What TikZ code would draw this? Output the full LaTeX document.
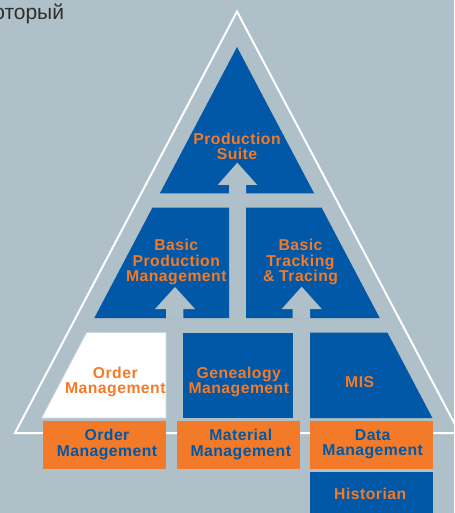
\documentclass[tikz,border=0pt]{standalone}
\usepackage{fontspec}
\setmainfont{Liberation Sans}
\newfontfamily\labfont[LetterSpace=3]{Liberation Sans Bold}
\definecolor{bg}{RGB}{176,192,200}
\definecolor{myblue}{RGB}{0,88,166}
\definecolor{myorange}{RGB}{242,122,41}
\definecolor{darktext}{RGB}{45,45,45}
\definecolor{edgeblue}{RGB}{200,214,224}
\tikzset{
  lbl/.style={font=\labfont\fontsize{11.8}{11.6}\selectfont, align=center, inner sep=0pt, anchor=north},
  otext/.style={lbl, text=myorange},
  btext/.style={lbl, text=myblue},
  bluefill/.style={fill=myblue, draw=none},
  orangebox/.style={fill=myorange, draw=none},
  gaparrow/.style={fill=bg, draw=none},
  frame/.style={draw=white, line width=1.5pt, line join=miter}
}
\begin{document}
\begin{tikzpicture}[x=0.75pt,y=-0.75pt]
\useasboundingbox (0,0) rectangle (454,513);
\clip (0,0) rectangle (454,513);
\fill[bg] (0,0) rectangle (454,513);
% caption fragment
\node[anchor=base west, inner sep=0pt, text=darktext, font=\fontsize{15.75}{18}\selectfont] (cap) at (-7,20) {оторый};
% outer white triangle
\draw[frame] (237,11.5) -- (15,433) -- (459.5,433) -- cycle;
% top triangle
\path[bluefill] (237,47) -- (314.2,193.5) -- (159.8,193.5) -- cycle;
% middle row
\path[bluefill] (152.5,207.5) -- (229,207.5) -- (229,318) -- (94.3,318) -- cycle;
\path[bluefill] (246,207.5) -- (321.5,207.5) -- (379.7,318) -- (246,318) -- cycle;
% bottom row
\path[fill=white, draw=edgeblue, line width=0.5pt] (86.6,332.5) -- (166,332.5) -- (166,418) -- (41.6,418) -- cycle;
\path[bluefill] (183.3,332.5) rectangle (292.7,418);
\path[bluefill] (310,332.5) -- (387.4,332.5) -- (432.4,418) -- (310,418) -- cycle;
% arrows (gaps)
\path[gaparrow] (229,194) -- (229,185) -- (217.7,185) -- (237.3,162.7) -- (257.3,185) -- (246,185) -- (246,194) -- cycle;
\path[gaparrow] (166,318.5) -- (166,309) -- (155,309) -- (175,287) -- (195,309) -- (183.3,309) -- (183.3,318.5) -- cycle;
\path[gaparrow] (292.7,318.5) -- (292.7,309) -- (281.7,309) -- (301.7,286.7) -- (321.7,309) -- (310,309) -- (310,318.5) -- cycle;
% orange boxes
\path[orangebox] (43,421) rectangle (166,468.7);
\path[orangebox] (177,421) rectangle (300,468.7);
\path[orangebox] (310,421) rectangle (433,468.7);
\path[bluefill] (310,472) rectangle (433,520);
% labels
\node[otext] (ps) at (237,132.7) {Production\\Suite};
\node[otext] (bpm) at (176.3,239.3) {Basic\\Production\\Management};
\node[otext] (btt) at (300.5,239.3) {Basic\\Tracking\\\& Tracing};
\node[otext] (om1) at (115.3,366.7) {Order\\Management};
\node[otext] (gm) at (238.8,366.7) {Genealogy\\Management};
\node[otext] (mis) at (359.7,376.7) {MIS};
\node[btext] (om2) at (107,429.3) {Order\\Management};
\node[btext] (mm) at (240.8,429.3) {Material\\Management};
\node[btext] (dm) at (372.7,429.3) {Data\\Management};
\node[otext] (hist) at (370.2,488.3) {Historian};
\end{tikzpicture}
\end{document}
